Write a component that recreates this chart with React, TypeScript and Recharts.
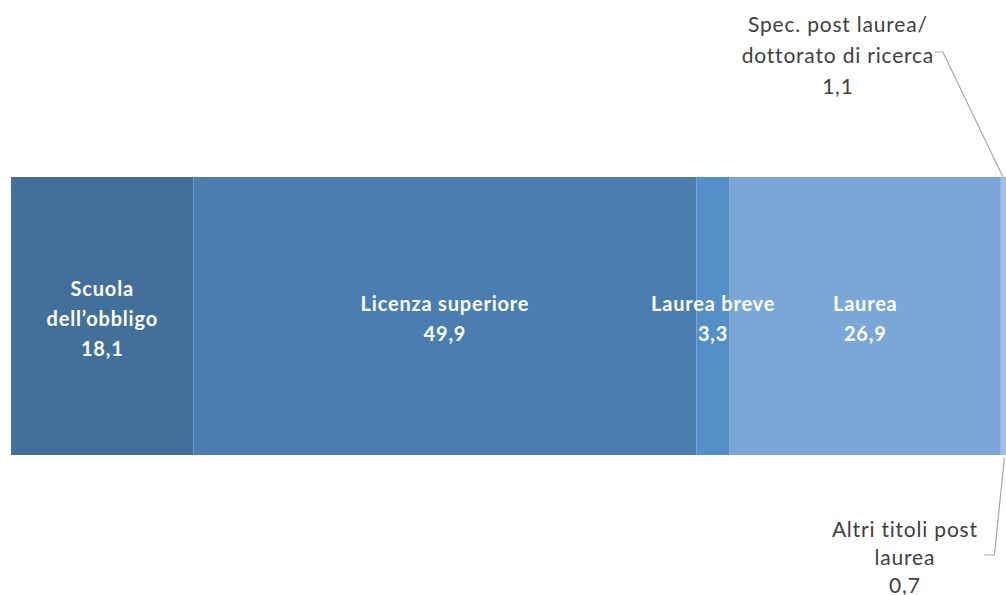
import { BarChart, Bar, XAxis, YAxis, LabelList } from 'recharts'

const categories = [
  'Scuola dell’obbligo',
  'Licenza superiore',
  'Laurea breve',
  'Laurea',
  'Altri titoli post laurea',
  'Spec. post laurea/dottorato di ricerca',
]
const values = [18.1, 49.9, 3.3, 26.9, 0.7, 1.1]
const labelLines = [
  ['Scuola', 'dell’obbligo'],
  ['Licenza superiore'],
  ['Laurea breve'],
  ['Laurea'],
  ['Altri titoli post', 'laurea'],
  ['Spec. post laurea/', 'dottorato di ricerca'],
]
// inside: label in the bar, below/above: label outside with a leader line
const labelPlace = ['inside', 'inside', 'inside', 'inside', 'below', 'above']

const COLORS = ['#436f9b', '#4a7eb1', '#548fc8', '#7ba7d8', '#a2c0e4', '#b8cfea']

const keys = categories.map((_c, i) => `s${i}`)
const row: Record<string, number | string> = { name: 'Titolo di studio' }
keys.forEach((k, i) => {
  row[k] = values[i]
})
const data = [row]

const fmt = (v: number) => v.toFixed(1).replace('.', ',')
const FONT = 'Lato, "Open Sans", sans-serif'

function makeLabel(i: number) {
  return (props: any) => {
    const x = Number(props.x)
    const y = Number(props.y)
    const w = Number(props.width)
    const h = Number(props.height)
    const lines = [...labelLines[i], fmt(values[i])]
    const place = labelPlace[i]

    if (place === 'inside') {
      const lh = 30
      const cx = x + w / 2
      const start = y + h / 2 + 2 - ((lines.length - 1) * lh) / 2
      return (
        <g>
          {lines.map((t, j) => (
            <text
              key={j}
              x={cx}
              y={start + j * lh}
              textAnchor="middle"
              dominantBaseline="central"
              fill="#ffffff"
              fontFamily={FONT}
              fontWeight={700}
              fontSize={20}
              letterSpacing={0.8}
            >
              {t}
            </text>
          ))}
        </g>
      )
    }

    if (place === 'below') {
      const lh = 28
      const cx = x - 96
      const top = y + h + 73
      const px = x + w / 2
      return (
        <g>
          <polyline
            points={`${px},${y + h + 3} ${px - 10},${y + h + 100} ${px - 20},${y + h + 100}`}
            fill="none"
            stroke="#a6a6a6"
            strokeWidth={1.2}
          />
          {lines.map((t, j) => (
            <text
              key={j}
              x={cx}
              y={top + j * lh}
              textAnchor="middle"
              dominantBaseline="central"
              fill="#404040"
              fontFamily={FONT}
              fontSize={21}
              letterSpacing={0.8}
            >
              {t}
            </text>
          ))}
        </g>
      )
    }

    // above
    const lh = 31
    const cx = x - 170
    const first = y - 154
    return (
      <g>
        <polyline
          points={`${x - 5},${y} ${x - 65},${y - 125} ${x - 73},${y - 125}`}
          fill="none"
          stroke="#a6a6a6"
          strokeWidth={1.2}
        />
        {lines.map((t, j) => (
          <text
            key={j}
            x={cx}
            y={first + j * lh}
            textAnchor="middle"
            dominantBaseline="central"
            fill="#404040"
            fontFamily={FONT}
            fontSize={21}
            letterSpacing={0.8}
          >
            {t}
          </text>
        ))}
      </g>
    )
  }
}

export default function App() {
  return (
    <div style={{ width: 1006, height: 595, overflow: 'hidden' }}>
      <style>{'body { margin: 0; }'}</style>
      <BarChart
        width={1021}
        height={595}
        data={data}
        layout="vertical"
        barCategoryGap={0}
        margin={{ top: 177, right: 2, bottom: 140, left: 11 }}
      >
        <XAxis type="number" domain={[0, 100]} hide />
        <YAxis type="category" dataKey="name" hide />
        {keys.map((k, i) => (
          <Bar key={k} dataKey={k} stackId="a" fill={COLORS[i]} isAnimationActive={false}>
            <LabelList dataKey={k} content={makeLabel(i)} />
          </Bar>
        ))}
      </BarChart>
    </div>
  )
}
